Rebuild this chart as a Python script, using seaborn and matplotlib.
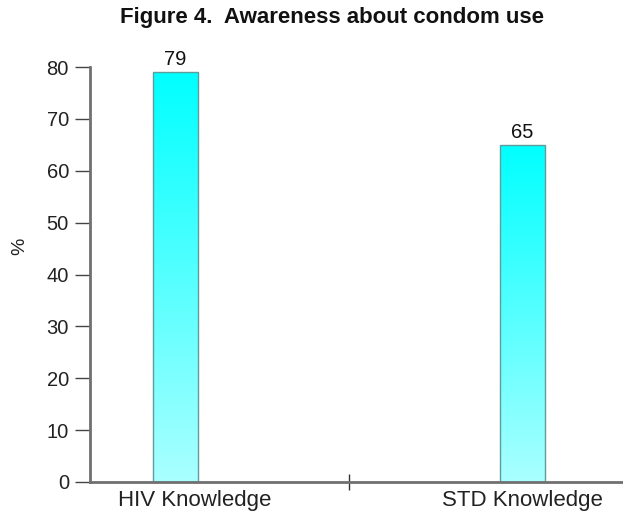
import matplotlib
matplotlib.use('Agg')
import matplotlib.pyplot as plt
import matplotlib.transforms as mtransforms
import numpy as np
import pandas as pd
import seaborn as sns

# chart data
categories = ['HIV Knowledge', 'STD Knowledge']
values = [79, 65]
yticks = [0, 10, 20, 30, 40, 50, 60, 70, 80]

df = pd.DataFrame({'topic': categories, 'pct': values})

sns.set_style('white')
plt.rcParams['font.family'] = ['Liberation Sans', 'DejaVu Sans']

fig = plt.figure(figsize=(6.23, 5.14), dpi=100)
ax = fig.add_axes([0.144, 0.0623, 0.856, 0.8073])

sns.barplot(data=df, x='topic', y='pct', ax=ax, width=0.13,
            color='#00ffff', edgecolor='#5f9c9c', linewidth=1)

# vertical cyan gradient inside each bar
grad = np.linspace(0, 1, 256).reshape(-1, 1)
cmap = matplotlib.colors.LinearSegmentedColormap.from_list(
    'cy', ['#00ffff', '#aaffff'])
for p in ax.patches:
    x0, y0 = p.get_x(), p.get_y()
    w, h = p.get_width(), p.get_height()
    im = ax.imshow(grad, cmap=cmap, extent=[x0, x0 + w, y0, y0 + h],
                   origin='upper', aspect='auto', zorder=p.get_zorder())
    im.set_clip_path(p)
    p.set_facecolor('none')
    p.set_zorder(p.get_zorder() + 0.1)

ax.bar_label(ax.containers[0], labels=[str(v) for v in values],
             fontsize=14.5, padding=2, color='#111111')

ax.set_xlim(-0.246, 1.29)
ax.set_ylim(0, 80)
ax.set_yticks(yticks)
ax.set_xlabel('')
ax.set_ylabel('')
fig.text(20 / 623, 1 - 246 / 514, '%', rotation=90, fontsize=14,
         ha='center', va='center', color='#222222')

ax.tick_params(axis='y', direction='out', length=11, width=1,
               color='#444444', labelsize=14.5, pad=4, left=True,
               labelcolor='#222222')
ax.tick_params(axis='x', length=0, labelsize=16, pad=6,
               labelcolor='#222222')
ax.set_xticks([0.5], minor=True)
ax.tick_params(axis='x', which='minor', direction='inout', length=12,
               width=1, color='#333333', bottom=True)

# first category label sits a little right of its bar
lab = ax.get_xticklabels()[0]
lab.set_transform(lab.get_transform() + mtransforms.ScaledTranslation(
    0.2, 0, fig.dpi_scale_trans))

sns.despine(ax=ax)
for s in ['left', 'bottom']:
    ax.spines[s].set_color('#707070')
    ax.spines[s].set_linewidth(2)

fig.text(332 / 623, 1 - 17 / 514, 'Figure 4.  Awareness about condom use',
         ha='center', va='center', fontsize=16, fontweight='bold',
         color='#111111')

fig.savefig('out.png', dpi=100)
